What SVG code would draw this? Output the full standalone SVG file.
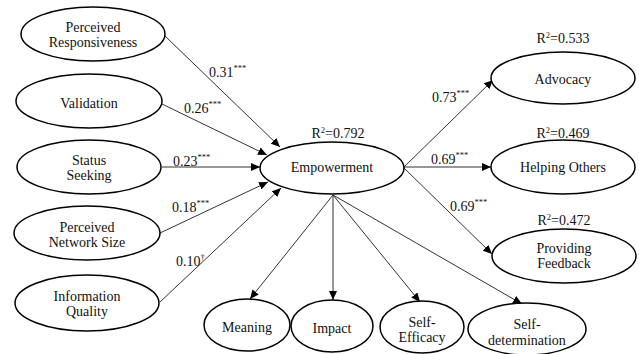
<svg xmlns="http://www.w3.org/2000/svg" width="639" height="354" viewBox="0 0 639 354" font-family="'Liberation Serif', 'DejaVu Serif', serif">
<style>
.n{fill:#fff;stroke:#000;stroke-width:1.5}
text{font-family:'Liberation Serif','DejaVu Serif',serif;font-size:14px;fill:#111}
.c{text-anchor:middle}
.s{font-size:8.5px}
.e{fill:none;stroke:#333;stroke-width:1;marker-end:url(#a)}
</style>
<defs>
<marker id="a" markerUnits="userSpaceOnUse" markerWidth="9" markerHeight="8" refX="9" refY="4" orient="auto">
<path d="M0,0 L9,4 L0,8 z" fill="#000"/>
</marker>
</defs>
<rect width="639" height="354" fill="#fff"/>
<g id="connectors">
<line class="e" x1="165" y1="36" x2="280" y2="147"/>
<line class="e" x1="162" y1="104" x2="267" y2="155"/>
<line class="e" x1="162" y1="167" x2="260" y2="167"/>
<line class="e" x1="160" y1="233" x2="268" y2="182"/>
<line class="e" x1="160" y1="302" x2="281" y2="188"/>
<line class="e" x1="404" y1="167" x2="493" y2="80"/>
<line class="e" x1="404" y1="167" x2="491" y2="167"/>
<line class="e" x1="404" y1="168" x2="492" y2="254"/>
<line class="e" x1="333" y1="195" x2="250" y2="299"/>
<line class="e" x1="333" y1="195" x2="333" y2="300"/>
<line class="e" x1="333" y1="195" x2="420" y2="302"/>
<line class="e" x1="333" y1="195" x2="522" y2="304"/>
<text x="209" y="77">0.31<tspan class="s" dy="-6">***</tspan></text>
<text x="184" y="113">0.26<tspan class="s" dy="-6">***</tspan></text>
<text x="173" y="166">0.23<tspan class="s" dy="-6">***</tspan></text>
<text x="172" y="212">0.18<tspan class="s" dy="-6">***</tspan></text>
<text x="176" y="266">0.10<tspan class="s" dy="-6">†</tspan></text>
<text x="432" y="102">0.73<tspan class="s" dy="-6">***</tspan></text>
<text x="431" y="164">0.69<tspan class="s" dy="-6">***</tspan></text>
<text x="450" y="211">0.69<tspan class="s" dy="-6">***</tspan></text>
</g>
<g id="perceived-responsiveness">
<ellipse class="n" cx="93" cy="34" rx="72" ry="27"/>
<text class="c" x="93" y="31.5">Perceived</text>
<text class="c" x="93" y="46.5">Responsiveness</text>
</g>
<g id="validation">
<ellipse class="n" cx="89" cy="101" rx="73" ry="27"/>
<text class="c" x="89" y="108">Validation</text>
</g>
<g id="status-seeking">
<ellipse class="n" cx="89" cy="167" rx="72" ry="27"/>
<text class="c" x="89" y="164.5">Status</text>
<text class="c" x="89" y="179.5">Seeking</text>
</g>
<g id="perceived-network-size">
<ellipse class="n" cx="87" cy="233" rx="73" ry="27"/>
<text class="c" x="87" y="232">Perceived</text>
<text class="c" x="87" y="247">Network Size</text>
</g>
<g id="information-quality">
<ellipse class="n" cx="87" cy="303" rx="72" ry="28"/>
<text class="c" x="87" y="301">Information</text>
<text class="c" x="87" y="316">Quality</text>
</g>
<g id="empowerment">
<ellipse class="n" cx="332" cy="168" rx="72" ry="26"/>
<text class="c" x="332" y="172">Empowerment</text>
<text class="c" x="338" y="138">R<tspan class="s" dy="-5">2</tspan><tspan dy="5">=0.792</tspan></text>
</g>
<g id="advocacy">
<ellipse class="n" cx="563" cy="78" rx="72" ry="26"/>
<text class="c" x="563" y="84">Advocacy</text>
<text class="c" x="563" y="43">R<tspan class="s" dy="-5">2</tspan><tspan dy="5">=0.533</tspan></text>
</g>
<g id="helping-others">
<ellipse class="n" cx="563" cy="167" rx="72" ry="27"/>
<text class="c" x="563" y="172">Helping Others</text>
<text class="c" x="563" y="138">R<tspan class="s" dy="-5">2</tspan><tspan dy="5">=0.469</tspan></text>
</g>
<g id="providing-feedback">
<ellipse class="n" cx="564" cy="256" rx="72" ry="27"/>
<text class="c" x="564" y="253">Providing</text>
<text class="c" x="564" y="268">Feedback</text>
<text class="c" x="564" y="225">R<tspan class="s" dy="-5">2</tspan><tspan dy="5">=0.472</tspan></text>
</g>
<g id="meaning">
<ellipse class="n" cx="247" cy="325" rx="43" ry="26"/>
<text class="c" x="247" y="332">Meaning</text>
</g>
<g id="impact">
<ellipse class="n" cx="332" cy="326" rx="41" ry="26"/>
<text class="c" x="332" y="333">Impact</text>
</g>
<g id="self-efficacy">
<ellipse class="n" cx="422" cy="327" rx="42" ry="26"/>
<text class="c" x="422" y="327">Self-</text>
<text class="c" x="422" y="342">Efficacy</text>
</g>
<g id="self-determination">
<ellipse class="n" cx="527" cy="329" rx="59" ry="26"/>
<text class="c" x="527" y="329">Self-</text>
<text class="c" x="527" y="345">determination</text>
</g>
</svg>
